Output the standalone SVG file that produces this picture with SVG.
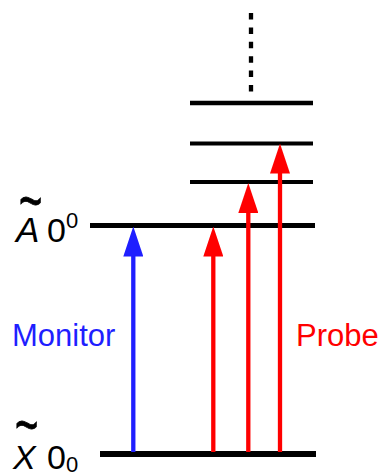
<svg xmlns="http://www.w3.org/2000/svg" width="383" height="475" viewBox="0 0 383 475">
<style>
.lvl{stroke:#000;fill:none}
.lab{font-family:"Liberation Sans",Arial,sans-serif;fill:#000}
.it{font-style:italic}
.blue{stroke:#1f1fff;stroke-width:4.3}
.red{stroke:#ff0000;stroke-width:4.3}
</style>
<defs>
<marker id="hb" markerUnits="userSpaceOnUse" markerWidth="30" markerHeight="20" refX="15" refY="10" orient="auto" viewBox="0 0 30 20"><path d="M0,0 L30,10 L0,20 z" fill="#1f1fff"/></marker>
<marker id="hr" markerUnits="userSpaceOnUse" markerWidth="30" markerHeight="20" refX="15" refY="10" orient="auto" viewBox="0 0 30 20"><path d="M0,0 L30,10 L0,20 z" fill="#ff0000"/></marker>
</defs>
<g id="level-X0">
<line class="lvl" x1="100" y1="454" x2="316" y2="454" stroke-width="6"/>
<text class="lab" font-size="40" stroke="#000" stroke-width="0.5" transform="translate(15,447) scale(1,1.6)">~</text>
<text class="lab it" x="13" y="469" font-size="34">X</text>
<text class="lab" x="47" y="469" font-size="34">0</text>
<text class="lab" x="66" y="472" font-size="22">0</text>
</g>
<g id="level-A0">
<line class="lvl" x1="90" y1="225.5" x2="315" y2="225.5" stroke-width="5"/>
<text class="lab" font-size="40" stroke="#000" stroke-width="0.5" transform="translate(19,223) scale(1,1.6)">~</text>
<text class="lab it" x="16" y="242" font-size="35">A</text>
<text class="lab" x="47" y="242" font-size="34">0</text>
<text class="lab" x="66" y="228" font-size="22">0</text>
</g>
<g id="level-1"><line class="lvl" x1="190" y1="182" x2="313" y2="182" stroke-width="4"/></g>
<g id="level-2"><line class="lvl" x1="190" y1="143.5" x2="313" y2="143.5" stroke-width="4"/></g>
<g id="level-3"><line class="lvl" x1="190" y1="103" x2="313" y2="103" stroke-width="4.5"/></g>
<g id="continuum"><line class="lvl" x1="251" y1="13" x2="251" y2="93" stroke-width="4.3" stroke-dasharray="6.5 7.9"/></g>
<g id="label-monitor"><text class="lab" x="12" y="346" font-size="31" style="fill:#1f1fff">Monitor</text></g>
<g id="label-probe"><text class="lab" x="296" y="346" font-size="31" style="fill:#ff0000">Probe</text></g>
<g id="connectors">
<line class="blue" x1="133.3" y1="452" x2="133.3" y2="241.5" marker-end="url(#hb)"/>
<line class="red" x1="213.3" y1="452" x2="213.3" y2="241.5" marker-end="url(#hr)"/>
<line class="red" x1="248.3" y1="452" x2="248.3" y2="198" marker-end="url(#hr)"/>
<line class="red" x1="280" y1="452" x2="280" y2="158.5" marker-end="url(#hr)"/>
</g>
</svg>
